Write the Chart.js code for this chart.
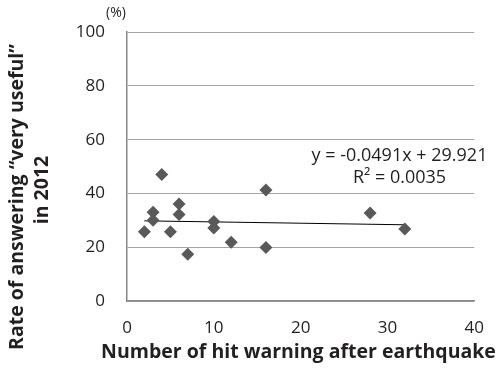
<!DOCTYPE html>
<html><head><meta charset="utf-8">
<script src="https://cdn.jsdelivr.net/npm/chart.js@4"></script>
<style>html,body{margin:0;padding:0;background:#fff}#wrap{width:501px;height:378px}</style>
</head><body><div id="wrap"><canvas id="c" width="501" height="378"></canvas></div>
<script>
const hitCounts = [2, 3, 3, 4, 5, 6, 6, 7, 10, 10, 12, 16, 16, 28, 32];
const rates = [25.8, 33.0, 30.0, 47.1, 25.8, 36.1, 32.2, 17.4, 29.6, 27.2, 21.9, 41.3, 19.9, 32.7, 26.8];
const trendX = [2, 32];
const trendY = [29.82, 28.35];
const xTicks = [0, 10, 20, 30, 40];
const yTicks = [0, 20, 40, 60, 80, 100];
const xTitle = 'Number of hit warning after earthquake';
const yTitle = ['Rate of answering “very useful”', 'in 2012'];
const unitLabel = '(%)';
const equation = ['y = -0.0491x + 29.921', 'R² = 0.0035'];

const FONT = '"Open Sans", Lato, sans-serif';

const textPlugin = {
  id: 'texts',
  afterDraw(chart) {
    const ctx = chart.ctx;
    ctx.save();
    ctx.fillStyle = '#231f20';
    ctx.textAlign = 'center';
    ctx.textBaseline = 'middle';
    ctx.font = 'bold 19.5px ' + FONT;
    ctx.fillText(xTitle, 298.5, 352);
    ctx.save();
    ctx.translate(17, 197);
    ctx.rotate(-Math.PI / 2);
    ctx.fillText(yTitle[0], 0, 0);
    ctx.restore();
    ctx.save();
    ctx.translate(42, 190);
    ctx.rotate(-Math.PI / 2);
    ctx.fillText(yTitle[1], 0, 0);
    ctx.restore();
    ctx.fillStyle = '#231f20';
    ctx.font = '14px ' + FONT;
    ctx.fillText(unitLabel, 116, 13);
    ctx.font = '18px ' + FONT;
    ctx.fillText(equation[0], 399.5, 156);
    ctx.fillText(equation[1], 399.5, 178);
    ctx.restore();
  }
};

new Chart(document.getElementById('c'), {
  type: 'scatter',
  data: {
    datasets: [
      {
        data: hitCounts.map((x, i) => ({ x, y: rates[i] })),
        pointStyle: 'rectRot',
        pointRadius: 6.5,
        pointHoverRadius: 6.5,
        backgroundColor: '#595959',
        borderColor: '#595959',
        borderWidth: 0
      },
      {
        type: 'line',
        data: trendX.map((x, i) => ({ x, y: trendY[i] })),
        borderColor: '#000',
        borderWidth: 1,
        pointRadius: 0,
        fill: false
      }
    ]
  },
  options: {
    responsive: false,
    animation: false,
    devicePixelRatio: 1,
    layout: { padding: { top: 26, right: 18, left: 0, bottom: 0 } },
    plugins: { legend: { display: false }, tooltip: { enabled: false } },
    scales: {
      x: {
        type: 'linear', min: 0, max: 40,
        afterBuildTicks: s => { s.ticks = xTicks.map(v => ({ value: v })); },
        afterFit: s => { s.height = 77; },
        grid: { display: false, drawTicks: false },
        border: { display: true, color: '#888', width: 1.5 },
        ticks: { padding: 17, color: '#231f20', font: { family: FONT, size: 17 } }
      },
      y: {
        type: 'linear', min: 0, max: 100,
        afterBuildTicks: s => { s.ticks = yTicks.map(v => ({ value: v })); },
        afterFit: s => { s.width = 127; },
        grid: { color: '#a6a6a6', lineWidth: 1, drawTicks: false },
        border: { display: true, color: '#888', width: 1.5 },
        ticks: { padding: 22, color: '#231f20', font: { family: FONT, size: 17 } }
      }
    }
  },
  plugins: [textPlugin]
});
</script>
</body></html>
